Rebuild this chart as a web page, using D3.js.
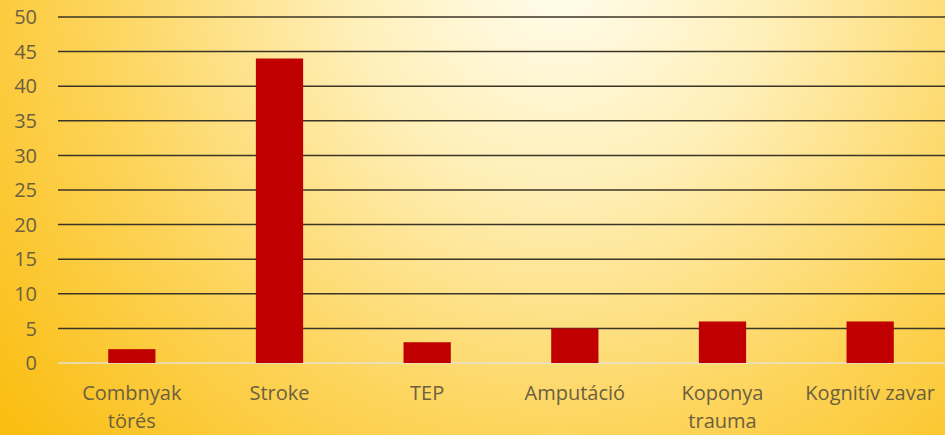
<!DOCTYPE html>
<html>
<head>
<meta charset="utf-8">
<script src="https://cdn.jsdelivr.net/npm/d3@7"></script>
<style>
  html, body { margin: 0; padding: 0; overflow: hidden; }
  svg text { font-family: "Open Sans", Lato, sans-serif; }
</style>
</head>
<body>
<svg width="945" height="435"></svg>
<script>
const categories = [["Combnyak", "törés"], ["Stroke"], ["TEP"], ["Amputáció"], ["Koponya", "trauma"], ["Kognitív zavar"]];
const values = [2, 44, 3, 5, 6, 6];
const yTicks = [0, 5, 10, 15, 20, 25, 30, 35, 40, 45, 50];

const svg = d3.select("svg");
const width = +svg.attr("width");
const height = +svg.attr("height");
const margin = { top: 17, right: 1, bottom: 72, left: 58 };

// background glow
const defs = svg.append("defs");
const grad = defs.append("radialGradient")
    .attr("id", "bg")
    .attr("gradientUnits", "userSpaceOnUse")
    .attr("cx", 560).attr("cy", -30).attr("r", 720);
grad.append("stop").attr("offset", 0).attr("stop-color", "#fffdf0");
grad.append("stop").attr("offset", 0.3).attr("stop-color", "#ffefb8");
grad.append("stop").attr("offset", 0.65).attr("stop-color", "#fdd45a");
grad.append("stop").attr("offset", 1).attr("stop-color", "#fabd10");
svg.append("rect").attr("width", width).attr("height", height).attr("fill", "url(#bg)");

const x = d3.scaleBand()
    .domain(categories.map((c, i) => i))
    .range([margin.left, width - margin.right])
    .paddingInner(0.68)
    .paddingOuter(0.34);

const y = d3.scaleLinear()
    .domain([0, 50])
    .range([height - margin.bottom, margin.top]);

// gridlines
svg.append("g")
    .selectAll("line")
    .data(yTicks.filter(t => t > 0))
    .join("line")
    .attr("x1", margin.left).attr("x2", width)
    .attr("y1", d => y(d)).attr("y2", d => y(d))
    .attr("stroke", "#3b3526")
    .attr("stroke-width", 1.5);

// baseline
svg.append("line")
    .attr("x1", margin.left).attr("x2", width)
    .attr("y1", y(0)).attr("y2", y(0))
    .attr("stroke", "#e6e0d0")
    .attr("stroke-width", 1.5);

// y labels
svg.append("g")
    .selectAll("text")
    .data(yTicks)
    .join("text")
    .attr("x", 37)
    .attr("y", d => y(d))
    .attr("dy", "0.36em")
    .attr("text-anchor", "end")
    .attr("font-size", 20)
    .attr("fill", "#6b6040")
    .text(d => d);

// bars
svg.append("g")
    .selectAll("rect")
    .data(values)
    .join("rect")
    .attr("x", (d, i) => x(i))
    .attr("y", d => y(d))
    .attr("width", x.bandwidth())
    .attr("height", d => y(0) - y(d))
    .attr("fill", "#c00000");

// category labels
const lbl = svg.append("g")
    .selectAll("text")
    .data(categories)
    .join("text")
    .attr("x", (d, i) => x(i) + x.bandwidth() / 2)
    .attr("y", 400)
    .attr("text-anchor", "middle")
    .attr("font-size", 20)
    .attr("fill", "#6b6040");
lbl.selectAll("tspan")
    .data(d => d)
    .join("tspan")
    .attr("x", function () { return d3.select(this.parentNode).attr("x"); })
    .attr("dy", (d, i) => i === 0 ? 0 : 28)
    .text(d => d);
</script>
</body>
</html>
